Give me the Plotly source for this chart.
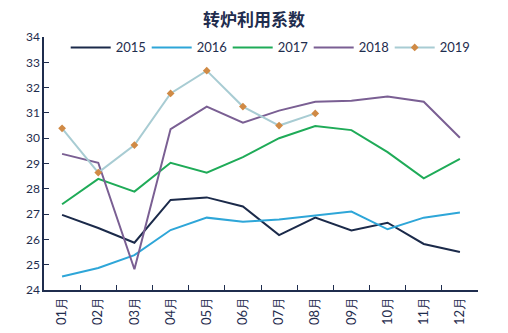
import plotly.graph_objects as go

months = ["01月", "02月", "03月", "04月", "05月", "06月", "07月", "08月", "09月", "10月", "11月", "12月"]
y2015 = [26.97, 26.45, 25.87, 27.56, 27.66, 27.30, 26.17, 26.86, 26.35, 26.66, 25.82, 25.50]
y2016 = [24.53, 24.87, 25.38, 26.37, 26.86, 26.70, 26.79, 26.95, 27.10, 26.40, 26.86, 27.06]
y2017 = [27.39, 28.39, 27.89, 29.03, 28.64, 29.25, 30.00, 30.48, 30.32, 29.45, 28.41, 29.18]
y2018 = [29.38, 29.03, 24.82, 30.36, 31.25, 30.61, 31.09, 31.44, 31.48, 31.65, 31.44, 30.02]
y2019 = [30.39, 28.64, 29.73, 31.77, 32.67, 31.25, 30.50, 30.98]

navy = "#1f2d4e"
fig = go.Figure()
fig.add_trace(go.Scatter(x=months, y=y2015, name="2015", mode="lines", line=dict(color="#1b2a4a", width=2)))
fig.add_trace(go.Scatter(x=months, y=y2016, name="2016", mode="lines", line=dict(color="#2ea6d8", width=2)))
fig.add_trace(go.Scatter(x=months, y=y2017, name="2017", mode="lines", line=dict(color="#1fab58", width=2)))
fig.add_trace(go.Scatter(x=months, y=y2018, name="2018", mode="lines", line=dict(color="#7a5f93", width=2)))
fig.add_trace(go.Scatter(x=months[:len(y2019)], y=y2019, name="2019", mode="lines+markers",
                         line=dict(color="#a8ccd3", width=2),
                         marker=dict(symbol="diamond", size=6, color="#d08a45")))

fig.update_layout(
    width=508, height=333,
    margin=dict(l=44, r=30, t=37, b=43),
    paper_bgcolor="white", plot_bgcolor="white",
    font=dict(family="Lato, Open Sans, sans-serif", size=12, color=navy),
    title=dict(text="<b>转炉利用系数</b>", x=0.5, xanchor="center", y=0.94, yanchor="middle",
               font=dict(family="Noto Sans CJK SC", size=17, color="#1f2d4e")),
    showlegend=True,
    legend=dict(orientation="h", x=0.05, y=1.018, xanchor="left", yanchor="top",
                bgcolor="rgba(0,0,0,0)", font=dict(size=13, color=navy),
                itemwidth=40, tracegroupgap=0, entrywidth=26, entrywidthmode="pixels"),
)
fig.update_xaxes(type="category", showline=True, linecolor=navy, linewidth=1.5,
                 ticks="inside", ticklen=5, tickcolor=navy, tickson="boundaries",
                 tickangle=-90, showgrid=False, tickfont=dict(size=13, color=navy),
                 range=[-0.5, 11.5], automargin=False)
fig.update_yaxes(range=[24, 34], dtick=1, showline=True, linecolor=navy, linewidth=1.5,
                 ticks="inside", ticklen=5, tickcolor=navy, showgrid=False, zeroline=False,
                 tickfont=dict(size=12, color=navy), automargin=False)

fig.write_html("out.html")
